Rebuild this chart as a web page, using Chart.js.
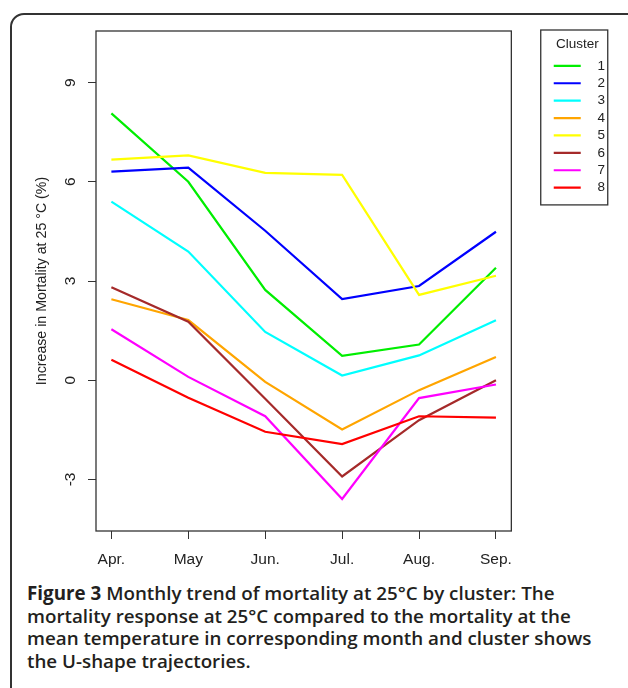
<!DOCTYPE html>
<html>
<head>
<meta charset="utf-8">
<script src="https://cdn.jsdelivr.net/npm/chart.js@4.4.1/dist/chart.umd.min.js"></script>
<style>
  html, body { margin: 0; padding: 0; background: #fff; }
  body { width: 628px; height: 688px; position: relative; overflow: hidden; }
  #frame { position: absolute; left: 10px; top: 13px; width: 660px; height: 720px;
           border: 2px solid #333; border-radius: 14px; }
  #chart { position: absolute; left: 0; top: 0; }
  #caption { position: absolute; left: 27px; top: 582px; width: 585px;
             font-family: 'Open Sans', sans-serif; font-size: 18.8px; font-weight: 600;
             line-height: 22.5px; color: #231f20; }
  #caption b { font-weight: 700; }
</style>
</head>
<body>
<div id="frame"></div>
<canvas id="chart" width="628" height="580"></canvas>
<div id="caption"><b>Figure 3</b> Monthly trend of mortality at 25°C by cluster: The mortality response at 25°C compared to the mortality at the mean temperature in corresponding month and cluster shows the U-shape trajectories.</div>
<script>
const months = ['Apr.', 'May', 'Jun.', 'Jul.', 'Aug.', 'Sep.'];
const clusters = ['1', '2', '3', '4', '5', '6', '7', '8'];
const colors = ['#00ee00', '#0000ff', '#00ffff', '#ffa500', '#ffff00', '#a52a2a', '#ff00ff', '#ff0000'];

const c1 = [8.07, 6.00, 2.73, 0.74, 1.08, 3.40];
const c2 = [6.31, 6.43, 4.52, 2.45, 2.85, 4.49];
const c3 = [5.40, 3.89, 1.46, 0.14, 0.75, 1.81];
const c4 = [2.45, 1.82, -0.05, -1.49, -0.30, 0.70];
const c5 = [6.67, 6.80, 6.27, 6.21, 2.58, 3.16];
const c6 = [2.81, 1.77, -0.56, -2.91, -1.21, 0.00];
const c7 = [1.54, 0.10, -1.09, -3.59, -0.54, -0.13];
const c8 = [0.62, -0.53, -1.56, -1.93, -1.09, -1.13];
const series = [c1, c2, c3, c4, c5, c6, c7, c8];

const yTicks = [-3, 0, 3, 6, 9];

const family = "'Liberation Sans', Arial, sans-serif";
const legendFont = { family, size: 13.5 };
const tickFont = { family, size: 15.5 };
const titleFont = { family, size: 14.2 };

// plot box and legend frame, like R's box() and legend()
const boxPlugin = {
  id: 'box',
  afterDraw(chart) {
    const { ctx, chartArea: a, legend } = chart;
    ctx.save();
    ctx.strokeStyle = '#333';
    ctx.lineWidth = 1.3;
    ctx.strokeRect(a.left, a.top, a.right - a.left, a.bottom - a.top);
    const hb = legend.legendHitBoxes;
    const last = hb[hb.length - 1];
    const lx = hb[0].left - 13;
    ctx.strokeRect(lx, a.top - 1, 67, last.top + last.height + 11.5 - a.top);
    ctx.restore();
  }
};

const datasets = series.map((s, i) => ({
  label: clusters[i],
  data: s.map((v, j) => ({ x: j + 1, y: v })),
  borderColor: colors[i],
  backgroundColor: colors[i],
  borderWidth: 2.2,
  pointRadius: 0,
  tension: 0,
  order: series.length - i
}));

new Chart(document.getElementById('chart').getContext('2d'), {
  type: 'line',
  data: { datasets },
  plugins: [boxPlugin],
  options: {
    responsive: false,
    animation: false,
    devicePixelRatio: 1,
    layout: { padding: { left: 30, top: 31, right: 23, bottom: 9 } },
    plugins: {
      tooltip: { enabled: false },
      legend: {
        position: 'right',
        align: 'start',
        title: { display: true, text: 'Cluster', color: '#222', font: legendFont, padding: { top: 7, bottom: 1 } },
        labels: {
          usePointStyle: true,
          pointStyle: 'line',
          pointStyleWidth: 27,
          boxHeight: 10,
          padding: 3.9,
          textAlign: 'right',
          color: '#222',
          font: legendFont,
          sort: (a, b) => a.datasetIndex - b.datasetIndex
        }
      }
    },
    scales: {
      x: {
        type: 'linear',
        min: 0.8,
        max: 6.2,
        afterBuildTicks: axis => { axis.ticks = months.map((m, i) => ({ value: i + 1 })); },
        afterFit: axis => { axis.height = 40; },
        grid: { drawOnChartArea: false, drawTicks: true, tickLength: 8, color: '#333' },
        border: { display: false },
        ticks: {
          color: '#222', font: tickFont, padding: 11, maxRotation: 0,
          callback: (v, i) => months[i]
        }
      },
      y: {
        type: 'linear',
        min: -4.56,
        max: 10.56,
        afterBuildTicks: axis => { axis.ticks = yTicks.map(v => ({ value: v })); },
        afterFit: axis => { axis.width = 66; },
        grid: { drawOnChartArea: false, drawTicks: true, tickLength: 8, color: '#333' },
        border: { display: false },
        title: {
          display: true, text: 'Increase in Mortality at 25 °C (%)',
          color: '#222', font: titleFont, padding: { top: 4, bottom: 0 }
        },
        ticks: {
          color: '#222', font: tickFont, padding: 10, minRotation: 90, maxRotation: 90,
          crossAlign: 'center'
        }
      },
      // empty right-hand axis, only keeps the gap between plot and legend
      gap: {
        type: 'linear',
        position: 'right',
        afterFit: axis => { axis.width = 38.5; },
        grid: { display: false },
        border: { display: false },
        ticks: { display: false }
      }
    }
  }
});
</script>
</body>
</html>
